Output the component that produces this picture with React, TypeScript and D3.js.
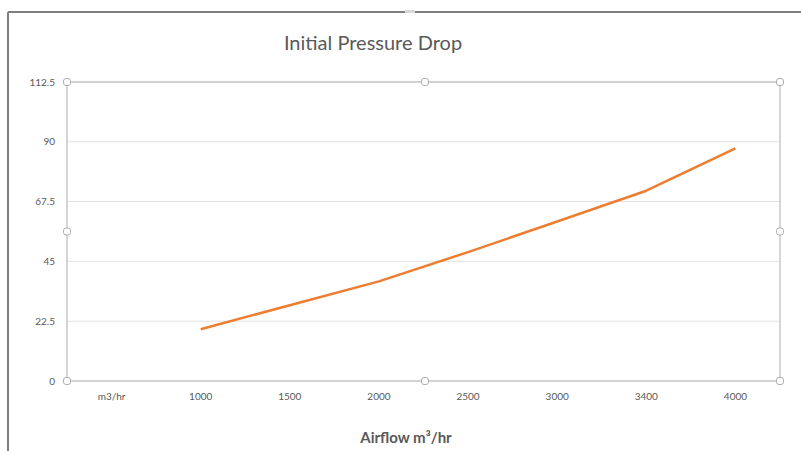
import * as React from 'react';
import * as d3 from 'd3';

const categories = ['m3/hr', '1000', '1500', '2000', '2500', '3000', '3400', '4000'];
const pressure: (number | null)[] = [null, 19.5, 28.5, 37.5, 48.5, 60, 71.6, 87.5];
const yTicks = [0, 22.5, 45, 67.5, 90, 112.5];

const W = 801;
const H = 451;
const left = 67;
const right = 780;
const top = 82;
const bottom = 381;
const font = 'Lato, "Open Sans", sans-serif';

const App: React.FC = () => {
  const x = d3.scaleBand<string>().domain(categories).range([left, right]);
  const y = d3.scaleLinear().domain([0, 112.5]).range([bottom, top]);

  const pts = categories
    .map((c, i) => ({ c, v: pressure[i] }))
    .filter((d) => d.v !== null) as { c: string; v: number }[];

  const line = d3
    .line<{ c: string; v: number }>()
    .x((d) => (x(d.c) as number) + x.bandwidth() / 2)
    .y((d) => y(d.v));

  const midY = (top + bottom) / 2;
  const handles = [
    [left, top], [425, top], [right, top],
    [left, midY], [right, midY],
    [left, bottom], [425, bottom], [right, bottom],
  ];

  return (
    <svg width={W} height={H} style={{ position: 'absolute', left: 0, top: 0, background: '#fff' }}>
      {/* outer frame */}
      <line x1={8} y1={12} x2={W} y2={12} stroke="#7f7f7f" strokeWidth={2} />
      <line x1={8} y1={12} x2={8} y2={H} stroke="#7f7f7f" strokeWidth={2} />
      <rect x={405} y={10} width={10} height={3} fill="#d9d9d9" />

      <text x={373} y={50} textAnchor="middle" fontFamily={font} fontSize={20} fill="#595959">
        Initial Pressure Drop
      </text>

      {/* gridlines */}
      {yTicks.map((t) => (
        <line key={t} x1={left} x2={right} y1={y(t)} y2={y(t)} stroke="#e3e3e3" strokeWidth={1} />
      ))}
      {/* plot area border */}
      <rect x={left} y={top} width={right - left} height={bottom - top} fill="none" stroke="#c8c8c8" strokeWidth={1.5} />

      {yTicks.map((t) => (
        <text key={t} x={55} y={y(t)} dy="0.35em" textAnchor="end" fontFamily={font} fontSize={10} fill="#595959">
          {t}
        </text>
      ))}
      {categories.map((c) => (
        <text
          key={c}
          x={(x(c) as number) + x.bandwidth() / 2}
          y={400}
          textAnchor="middle"
          fontFamily={font}
          fontSize={10}
          fill="#595959"
        >
          {c}
        </text>
      ))}

      <path d={line(pts) || ''} fill="none" stroke="#ED7D31" strokeWidth={2.5} strokeLinejoin="round" />

      {handles.map(([hx, hy], i) => (
        <rect key={i} x={hx - 3.5} y={hy - 3.5} width={7} height={7} rx={2.5} fill="#fff" stroke="#b0b0b0" strokeWidth={1} />
      ))}

      <text x={406} y={443} textAnchor="middle" fontFamily={font} fontSize={15} fontWeight="bold" fill="#595959">
        Airflow m³/hr
      </text>
    </svg>
  );
};

export default App;
